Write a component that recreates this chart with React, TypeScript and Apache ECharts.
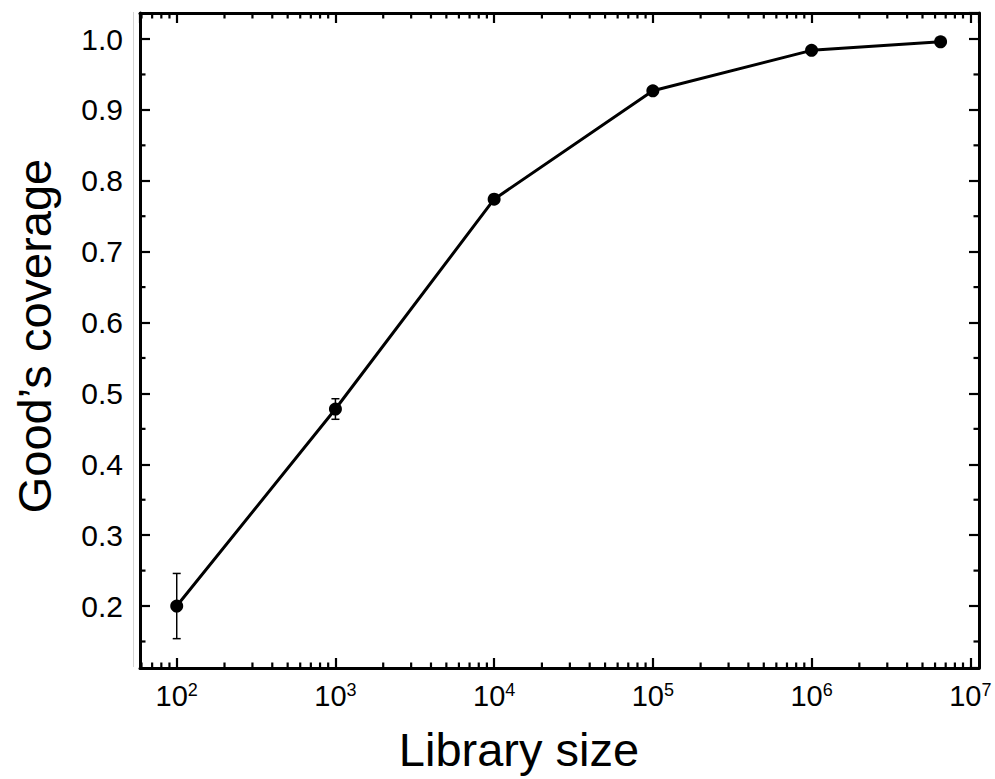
import React, { useEffect, useRef } from "react";
import * as echarts from "echarts";

// Data
const librarySizes = [100, 1000, 10000, 100000, 1000000, 6500000];
const coverage = [0.2, 0.478, 0.774, 0.927, 0.984, 0.996];
const coverageErr = [0.046, 0.0145, 0.003, 0.002, 0.001, 0.001];

// Axis extents & ticks
const xMin = 58.7;
const xMax = 1.135e7;
const yMin = 0.1126;
const yMax = 1.0367;
const xMinorTicks = [
  60, 70, 80, 90,
  200, 300, 400, 500, 600, 700, 800, 900,
  2000, 3000, 4000, 5000, 6000, 7000, 8000, 9000,
  20000, 30000, 40000, 50000, 60000, 70000, 80000, 90000,
  200000, 300000, 400000, 500000, 600000, 700000, 800000, 900000,
  2000000, 3000000, 4000000, 5000000, 6000000, 7000000, 8000000, 9000000,
];
const yMinorTicks = [0.15, 0.25, 0.35, 0.45, 0.55, 0.65, 0.75, 0.85, 0.95];

const xTitle = "Library size";
const yTitle = "Good’s coverage";

const FONT = "'Liberation Sans', Arial, Helvetica, sans-serif";

export default function App() {
  const ref = useRef<HTMLDivElement>(null);

  useEffect(() => {
    if (!ref.current) return;
    const chart = echarts.init(ref.current, null, { renderer: "svg" });

    const isPow10 = (v: number) => {
      const e = Math.log10(v);
      return Math.abs(e - Math.round(e)) < 1e-6;
    };

    const xAxisBase = {
      type: "log" as const,
      logBase: 10,
      min: xMin,
      max: xMax,
      axisLine: { show: true, onZero: false, lineStyle: { color: "#000", width: 3 } },
      axisTick: { show: true, inside: true, length: 10, lineStyle: { color: "#000", width: 2.2 } },
      splitLine: { show: false },
      minorTick: { show: false },
    };
    const yAxisBase = {
      type: "value" as const,
      min: yMin,
      max: yMax,
      splitNumber: 8,
      axisLine: { show: true, onZero: false, lineStyle: { color: "#000", width: 3 } },
      axisTick: { show: true, inside: true, length: 10, lineStyle: { color: "#000", width: 2.2 } },
      splitLine: { show: false },
      minorTick: { show: false },
    };

    const option: any = {
      animation: false,
      backgroundColor: "#fff",
      textStyle: { fontFamily: FONT, color: "#000" },
      grid: { left: 140, right: 16, top: 13, bottom: 111, containLabel: false },
      xAxis: [
        {
          ...xAxisBase,
          position: "bottom",
          axisLabel: {
            show: true,
            showMinLabel: false,
            showMaxLabel: false,
            margin: 13,
            color: "#000",
            fontFamily: FONT,
            fontSize: 29,
            formatter: (v: number) =>
              isPow10(v) ? "10{sup|" + Math.round(Math.log10(v)) + "}" : "",
            rich: {
              sup: { fontSize: 18, fontFamily: FONT, color: "#000", verticalAlign: "top" },
            },
          },
        },
        {
          ...xAxisBase,
          position: "top",
          axisLabel: { show: false },
        },
      ],
      yAxis: [
        {
          ...yAxisBase,
          position: "left",
          axisLabel: {
            show: true,
            showMinLabel: false,
            showMaxLabel: false,
            margin: 17,
            color: "#000",
            fontFamily: FONT,
            fontSize: 30,
            formatter: (v: number) => v.toFixed(1),
          },
        },
        {
          ...yAxisBase,
          position: "right",
          axisLabel: { show: false },
        },
      ],
      graphic: [
        {
          type: "text",
          x: 519,
          y: 749,
          style: {
            text: xTitle,
            fontSize: 47,
            fontFamily: FONT,
            fill: "#000",
            align: "center",
            verticalAlign: "middle",
          },
        },
        {
          type: "text",
          x: 34,
          y: 336,
          rotation: Math.PI / 2,
          style: {
            text: yTitle,
            fontSize: 47,
            fontFamily: FONT,
            fill: "#000",
            align: "center",
            verticalAlign: "middle",
          },
        },
        {
          type: "line",
          shape: { x1: 133.5, y1: 12, x2: 133.5, y2: 667 },
          style: { stroke: "#d4d4d4", lineWidth: 1 },
        },
      ],
      series: [
        {
          type: "custom",
          name: "xminor",
          xAxisIndex: 0,
          yAxisIndex: 0,
          clip: false,
          silent: true,
          data: xMinorTicks.map((v) => [v, 0.5]),
          renderItem: (params: any, api: any) => {
            const cs = params.coordSys;
            const px = api.coord([api.value(0), 0.5])[0];
            const bottom = cs.y + cs.height;
            const top = cs.y;
            return {
              type: "group",
              children: [
                { type: "line", shape: { x1: px, y1: bottom, x2: px, y2: bottom - 5.5 }, style: { stroke: "#000", lineWidth: 2.2 } },
                { type: "line", shape: { x1: px, y1: top, x2: px, y2: top + 5.5 }, style: { stroke: "#000", lineWidth: 2.2 } },
              ],
            };
          },
        },
        {
          type: "custom",
          name: "yminor",
          xAxisIndex: 0,
          yAxisIndex: 0,
          clip: false,
          silent: true,
          data: yMinorTicks.map((v) => [1000, v]),
          renderItem: (params: any, api: any) => {
            const cs = params.coordSys;
            const py = api.coord([1000, api.value(1)])[1];
            const left = cs.x;
            const right = cs.x + cs.width;
            return {
              type: "group",
              children: [
                { type: "line", shape: { x1: left, y1: py, x2: left + 5.5, y2: py }, style: { stroke: "#000", lineWidth: 2.2 } },
                { type: "line", shape: { x1: right, y1: py, x2: right - 5.5, y2: py }, style: { stroke: "#000", lineWidth: 2.2 } },
              ],
            };
          },
        },
        {
          type: "custom",
          name: "errorbars",
          xAxisIndex: 0,
          yAxisIndex: 0,
          silent: true,
          z: 3,
          encode: { x: 0, y: [1, 2] },
          data: librarySizes.map((x, i) => [x, coverage[i] - coverageErr[i], coverage[i] + coverageErr[i]]),
          renderItem: (params: any, api: any) => {
            const lo = api.coord([api.value(0), api.value(1)]);
            const hi = api.coord([api.value(0), api.value(2)]);
            const w = 4;
            const st = { stroke: "#000", lineWidth: 1.5 };
            return {
              type: "group",
              children: [
                { type: "line", shape: { x1: lo[0], y1: lo[1], x2: hi[0], y2: hi[1] }, style: st },
                { type: "line", shape: { x1: lo[0] - w, y1: lo[1], x2: lo[0] + w, y2: lo[1] }, style: st },
                { type: "line", shape: { x1: hi[0] - w, y1: hi[1], x2: hi[0] + w, y2: hi[1] }, style: st },
              ],
            };
          },
        },
        {
          type: "line",
          name: "coverage",
          xAxisIndex: 0,
          yAxisIndex: 0,
          z: 4,
          data: librarySizes.map((x, i) => [x, coverage[i]]),
          symbol: "circle",
          symbolSize: 13,
          showSymbol: true,
          lineStyle: { color: "#000", width: 3 },
          itemStyle: { color: "#000" },
        },
      ],
    };

    chart.setOption(option);
    return () => chart.dispose();
  }, []);

  return (
    <div
      ref={ref}
      style={{ position: "absolute", left: 0, top: 0, width: 995, height: 779 }}
    />
  );
}
